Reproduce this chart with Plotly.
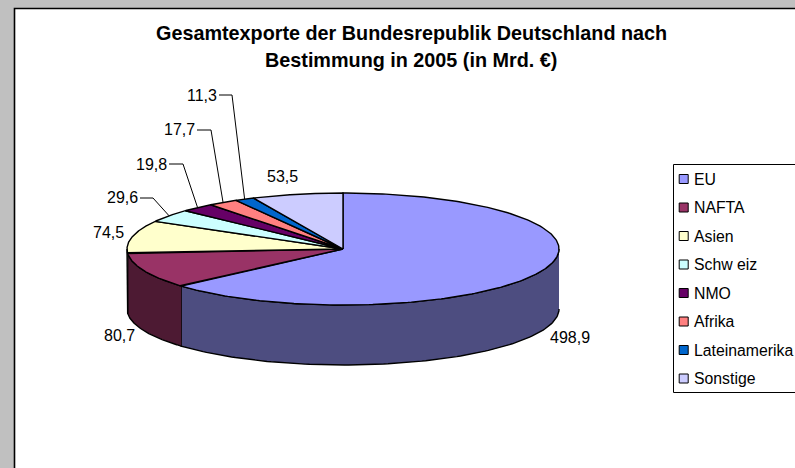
import numpy as np
import plotly.graph_objects as go

# --- data ---
categories = ["EU", "NAFTA", "Asien", "Schw eiz", "NMO", "Afrika", "Lateinamerika", "Sonstige"]
values = [498.9, 80.7, 74.5, 29.6, 19.8, 17.7, 11.3, 53.5]
title_lines = ["Gesamtexporte der Bundesrepublik Deutschland nach",
               "Bestimmung in 2005 (in Mrd. €)"]

# --- styles ---
top_colors = ["#9999FF", "#993366", "#FFFFCC", "#CCFFFF", "#660066", "#FF8080", "#0066CC", "#CCCCFF"]
wall_colors = ["#4D4D80", "#4D1A33", "#808066", "#668080", "#330033", "#804040", "#003366", "#666680"]

# --- layout geometry (axis units equal screen pixels) ---
W, H = 795, 468
CX, CY, RX, RY, DEPTH = 343, 249, 216, 56, 60
FONT = "Liberation Sans, Arial, sans-serif"
TEXT = "#000000"

# label anchor per value: (x, y, xanchor)
label_pos = [(570, 337, "center"), (119, 335, "center"), (124, 232, "right"), (138, 197, "right"),
             (167, 164, "right"), (195, 129, "right"), (217, 95, "right"), (282, 176, "center")]
# leader elbows for small slices: index -> (start x, elbow x, y)
leaders = {3: (140, 153, 198), 4: (169, 183, 164), 5: (197, 211, 130), 6: (219, 232, 95)}

legend_y = [179, 207.5, 236, 264.5, 293, 321.5, 350, 378.5]


def ex(t):
    return CX + RX * np.sin(t)


def ey(t):
    return CY - RY * np.cos(t)


total = sum(values)
edges = np.concatenate([[0], np.cumsum(values)]) / total * 2 * np.pi
fig = go.Figure()


def poly(xs, ys, color, name):
    fig.add_trace(go.Scatter(x=xs, y=ys, mode="lines", fill="toself", fillcolor=color, name=name,
                             line=dict(color="#000000", width=1.4), showlegend=False, hoverinfo="name"))


# outer walls (only the front half of the rim is visible)
for i, cat in enumerate(categories):
    a = max(edges[i], np.pi / 2)
    b = min(edges[i + 1], 3 * np.pi / 2)
    if b > a:
        t = np.linspace(a, b, 120)
        poly(np.r_[ex(t), ex(t[::-1])], np.r_[ey(t), ey(t[::-1]) + DEPTH], wall_colors[i], cat)

# top faces
for i, cat in enumerate(categories):
    t = np.linspace(edges[i], edges[i + 1], 240)
    poly(np.r_[CX, ex(t), CX], np.r_[CY, ey(t), CY], top_colors[i], cat)

# leader lines: elbow to the rim at the middle of each small slice
for i, (x0, x1, y) in leaders.items():
    mid = (edges[i] + edges[i + 1]) / 2
    fig.add_trace(go.Scatter(x=[x0, x1, ex(mid)], y=[y, y, ey(mid)], mode="lines",
                             line=dict(color="#000000", width=1), showlegend=False, hoverinfo="skip"))

# legend swatches
fig.add_trace(go.Scatter(x=[683.7] * len(categories), y=legend_y, mode="markers", showlegend=False,
                         hoverinfo="skip",
                         marker=dict(symbol="square", size=9, color=top_colors,
                                     line=dict(color="#000000", width=1))))

ann = []
for line, y in zip(title_lines, [33, 60]):
    ann.append(dict(x=411, y=y, text=f"<b>{line}</b>", showarrow=False, xanchor="center", yanchor="middle",
                    font=dict(family=FONT, size=19.8, color=TEXT)))
for v, (x, y, anchor) in zip(values, label_pos):
    ann.append(dict(x=x, y=y, text=f"{v:.1f}".replace(".", ","), showarrow=False, xanchor=anchor,
                    yanchor="middle", font=dict(family=FONT, size=16, color=TEXT)))
for cat, y in zip(categories, legend_y):
    ann.append(dict(x=694, y=y, text=cat, showarrow=False, xanchor="left", yanchor="middle",
                    font=dict(family=FONT, size=15.8, color=TEXT)))
for a in ann:
    a.update(xref="x", yref="y", borderpad=0, borderwidth=0)

fig.update_layout(
    width=W, height=H, margin=dict(l=0, r=0, t=0, b=0), autosize=False,
    paper_bgcolor="#C0C0C0", plot_bgcolor="rgba(0,0,0,0)", showlegend=False,
    xaxis=dict(range=[0, W], visible=False, fixedrange=True),
    yaxis=dict(range=[H, 0], visible=False, fixedrange=True),
    annotations=ann,
    shapes=[
        dict(type="rect", xref="x", yref="y", x0=14.5, y0=8.5, x1=W + 5, y1=H + 5, layer="below",
             fillcolor="#FFFFFF", line=dict(color="#000000", width=1.6)),
        dict(type="rect", xref="x", yref="y", x0=673.5, y0=164.5, x1=W + 5, y1=392.5, layer="below",
             fillcolor="#FFFFFF", line=dict(color="#000000", width=1)),
    ],
)
fig.write_html("out.html", config=dict(displayModeBar=False),
               post_script="document.body.style.margin='0';document.body.style.overflow='hidden';")
